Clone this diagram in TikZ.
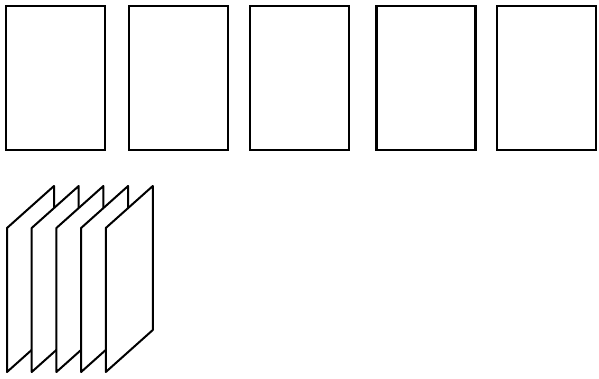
\documentclass[tikz,border=0pt]{standalone}
\usetikzlibrary{positioning}
\tikzset{
  sheet/.style={draw, line width=2.2pt, fill=white, minimum width=99pt, minimum height=144pt, inner sep=0pt},
  panel/.style={draw, line width=2pt, fill=white, line join=round},
}
\begin{document}
\begin{tikzpicture}[x=1pt,y=-1pt]
  \useasboundingbox (0,0) rectangle (599,379);
  % top row of sheets
  \foreach \i/\x in {1/55.5,2/178.5,3/299.5,4/426,5/546.5} { \node[sheet] (s\i) at (\x,78) {}; }
  % stack of slanted panels, back to front
  \foreach \i in {0,...,4} {
    \draw[panel] (7+24.7*\i,228) coordinate (p\i) -- ++(47,-42) -- ++(0,144) -- ++(-47,42) -- cycle;
  }
\end{tikzpicture}
\end{document}
